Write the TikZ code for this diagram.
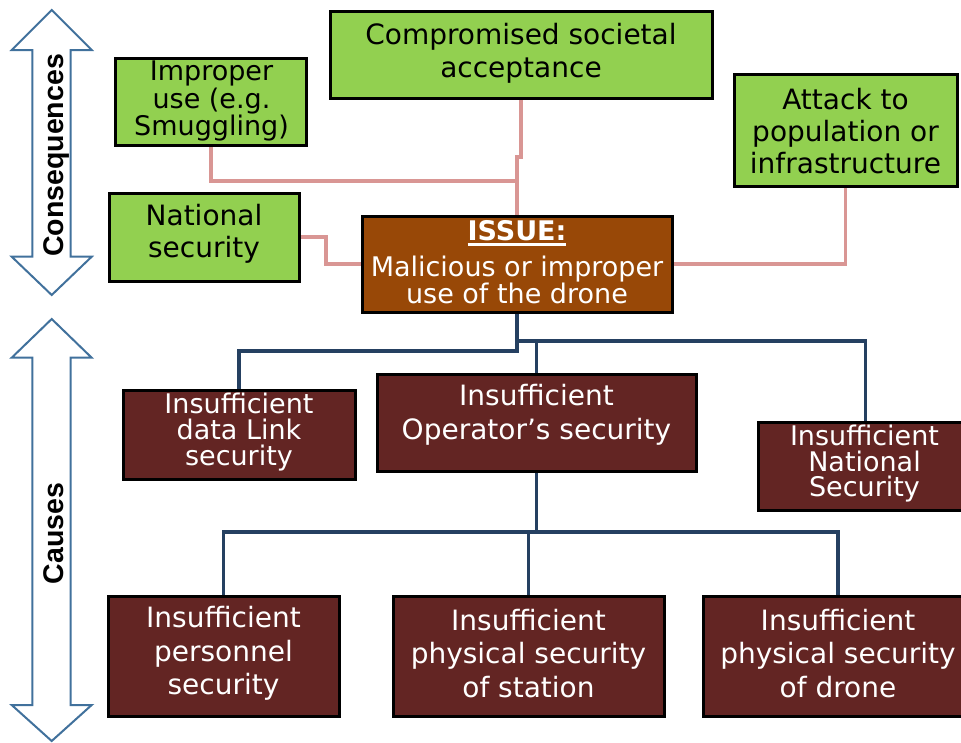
\documentclass[tikz,border=0pt]{standalone}
\usepackage{fontspec}
\setmainfont{DejaVu Sans}
\newfontfamily\labelfont{Liberation Sans}

\definecolor{leaf}{HTML}{92D050}
\definecolor{issuefill}{HTML}{984807}
\definecolor{causefill}{HTML}{632523}
\definecolor{pinkline}{HTML}{D99694}
\definecolor{navyline}{HTML}{254061}
\definecolor{arrowline}{HTML}{41719C}

\pgfdeclarelayer{wires}
\pgfsetlayers{wires,main}

% thick underline for the heading of the central box
\newcommand{\thickul}[1]{\leavevmode\setbox0=\hbox{#1}\rlap{\rule[-5pt]{\wd0}{2.2pt}}\box0}

\tikzset{
  every node/.style={inner sep=0pt, outer sep=0pt},
  box/.style={draw=black, line width=3pt, rectangle},
  leafbox/.style={box, fill=leaf},
  issuebox/.style={box, fill=issuefill},
  causebox/.style={box, fill=causefill},
  txt/.style={align=center, font=\fontsize{28}{#1}\selectfont},
  smalltxt/.style={align=center, font=\fontsize{27}{#1}\selectfont},
  lighttxt/.style={txt=#1, text=white},
  smalllighttxt/.style={smalltxt=#1, text=white},
  pinkc/.style={draw=pinkline, line width=3.5pt},
  navyc/.style={draw=navyline, line width=3.5pt},
  dblarrow/.style={draw=arrowline, line width=2pt, fill=white, line join=miter},
  sidelabel/.style={font=\labelfont\bfseries\fontsize{28.5}{30}\selectfont, rotate=90, anchor=base},
}

\begin{document}
\begin{tikzpicture}[x=1pt,y=-1pt]
\useasboundingbox (0,0) rectangle (961,742);

% side arrows
\draw[dblarrow] (51.7,10) -- (91.7,50) -- (70.7,50) -- (70.7,256.7) -- (91.7,256.7)
  -- (51.7,295) -- (11.7,256.7) -- (32.3,256.7) -- (32.3,50) -- (11.7,50) -- cycle;
\draw[dblarrow] (51.7,319) -- (91.7,357.7) -- (70.7,357.7) -- (70.7,705) -- (91.7,705)
  -- (51.7,741) -- (11.7,705) -- (32.3,705) -- (32.3,357.7) -- (11.7,357.7) -- cycle;
\node[sidelabel] (conslbl) at (63,155.5) {Consequences};
\node[sidelabel] (causelbl) at (63,533.5) {Causes};

% consequence boxes
\node[leafbox, minimum width=191pt, minimum height=87pt] (improper) at (211,102) {};
\node[leafbox, minimum width=382pt, minimum height=87pt] (accept) at (521,54.5) {};
\node[leafbox, minimum width=223pt, minimum height=112pt] (attack) at (845.5,130) {};
\node[leafbox, minimum width=190pt, minimum height=88pt] (natsec) at (204,237) {};

% central issue
\node[issuebox, minimum width=310pt, minimum height=96pt] (issue) at (517,264) {};

% cause boxes
\node[causebox, minimum width=232pt, minimum height=89pt] (datalink) at (239,434.5) {};
\node[causebox, minimum width=319pt, minimum height=97pt] (operator) at (536.5,422.5) {};
\node[causebox, minimum width=215pt, minimum height=88pt] (natcause) at (865.5,466) {};
\node[causebox, minimum width=231pt, minimum height=120pt] (personnel) at (223.5,656) {};
\node[causebox, minimum width=271pt, minimum height=120pt] (station) at (528.5,656) {};
\node[causebox, minimum width=270pt, minimum height=120pt] (drone) at (838,656) {};

% box texts
\node[smalltxt=25.5] (improper-t) at (211.5,101) {Improper\\use (e.g.\\Smuggling)};
\node[txt=33] (accept-t) at (521,53) {Compromised societal\\acceptance};
\node[txt=32] (attack-t) at (845.5,131) {Attack to\\population or\\infrastructure};
\node[txt=32] (natsec-t) at (204,234) {National\\security};
\node[align=center, text=white, font=\fontsize{27}{25}\selectfont] (issue-t) at (517,262)
  {\textbf{\thickul{ISSUE:}}\\[9pt]Malicious or improper\\use of the drone};
\node[smalllighttxt=26] (datalink-t) at (239,432) {Insufficient\\data Link\\security};
\node[lighttxt=34] (operator-t) at (536.5,415) {Insufficient\\Operator’s security};
\node[smalllighttxt=25.5] (natcause-t) at (864.5,464) {Insufficient\\National\\Security};
\node[lighttxt=33.5] (personnel-t) at (223.5,653.5) {Insufficient\\personnel\\security};
\node[lighttxt=33.5] (station-t) at (528.5,653.5) {Insufficient\\physical security\\of station};
\node[lighttxt=33.5] (drone-t) at (838,653.5) {Insufficient\\physical security\\of drone};

% connectors, kept behind the boxes
\coordinate (jog) at (517,157);
\coordinate (pj) at (517,181);
\coordinate (b1) at (517,341);
\coordinate (b2) at (536.5,532);
\begin{pgfonlayer}{wires}
  \draw[pinkc] (accept.south) |- (jog) -- (issue.north);
  \draw[pinkc] (improper.south) |- (pj);
  \draw[pinkc] (natsec.east) -- ++(27,0) |- (issue.west);
  \draw[pinkc] (attack.south) |- (issue.east);

  \draw[navyc] (issue.south) -- (b1) -| (natcause.north);
  \draw[navyc] (b1) -- ++(0,10) -| (datalink.north);
  \draw[navyc] (operator.north) -- (operator.north |- b1);
  \draw[navyc] (operator.south) -- (b2);
  \draw[navyc] (personnel.north) -- (personnel.north |- b2) -| (drone.north);
  \draw[navyc] (station.north) -- (station.north |- b2);
\end{pgfonlayer}
\end{tikzpicture}
\end{document}
